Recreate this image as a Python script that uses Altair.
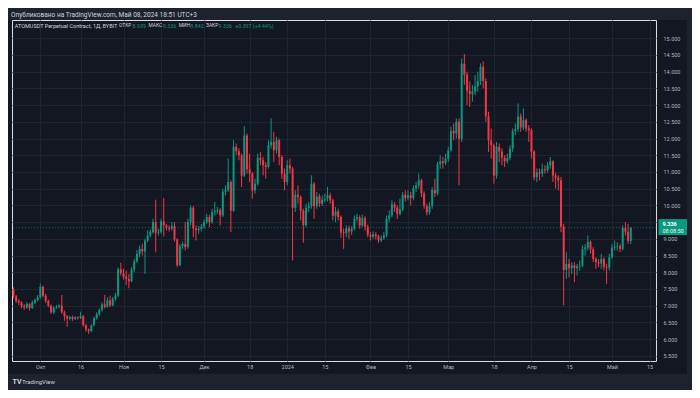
import altair as alt
import pandas as pd

# ---------------- data ----------------
first_open = 7.49
close = [7.28, 7.14, 7.10, 6.99, 6.95, 7.05, 6.93, 7.10, 7.17, 7.25,
         7.56, 7.30, 7.14, 7.00, 6.80, 6.94, 6.96, 7.00, 6.80, 6.68,
         6.61, 6.66, 6.60, 6.65, 6.63, 6.68, 6.42, 6.29, 6.24, 6.41,
         6.63, 6.74, 6.87, 7.04, 6.97, 7.16, 7.01, 7.20, 7.30, 8.09,
         7.97, 7.87, 7.80, 7.73, 8.08, 8.33, 8.55, 8.70, 8.62, 8.95,
         9.10, 9.20, 9.50, 9.18, 9.20, 9.52, 9.40, 9.33, 9.30, 9.38,
         8.98, 8.21, 8.78, 8.85, 8.75, 9.50, 9.93, 9.31, 9.26, 9.30,
         9.36, 9.50, 9.65, 9.50, 9.80, 9.84, 9.86, 9.70, 10.41, 10.46,
         10.70, 9.84, 11.75, 11.62, 11.50, 10.89, 12.09, 11.08, 10.95, 10.45,
         10.65, 11.42, 11.35, 11.20, 11.15, 11.80, 11.90, 11.65, 11.95, 11.45,
         10.95, 10.70, 11.20, 11.10, 9.93, 10.32, 10.25, 9.84, 9.41, 9.93,
         9.98, 10.65, 9.98, 10.27, 10.05, 10.17, 10.20, 10.30, 10.15, 9.69,
         9.82, 9.65, 9.19, 9.17, 9.32, 9.22, 9.30, 9.60, 9.65, 9.40,
         9.62, 9.36, 9.12, 9.06, 9.13, 9.08, 8.95, 9.02, 9.10, 9.60,
         9.70, 10.03, 9.93, 9.74, 9.88, 10.32, 10.22, 10.30, 10.22, 10.51,
         10.60, 10.75, 10.36, 9.98, 9.79, 9.98, 10.46, 10.36, 11.23, 11.32,
         11.27, 11.40, 11.65, 12.23, 12.15, 12.50, 11.99, 14.24, 13.91, 13.43,
         13.33, 13.40, 13.55, 13.72, 14.15, 13.72, 12.66, 11.94, 11.80, 10.89,
         11.75, 11.61, 11.42, 11.32, 11.42, 11.70, 12.23, 12.28, 12.66, 12.33,
         12.55, 12.30, 12.25, 11.61, 10.84, 10.99, 10.95, 11.08, 11.05, 11.20,
         11.32, 10.89, 10.83, 10.75, 9.36, 8.07, 8.25, 8.12, 8.21, 8.12,
         8.18, 8.20, 8.69, 8.74, 8.91, 8.69, 8.40, 8.30, 8.26, 8.40,
         8.16, 8.14, 8.45, 8.74, 8.76, 8.78, 8.70, 9.33, 9.21, 8.939,
         9.336]
high = [7.55, 7.32, 7.20, 7.13, 7.05, 7.10, 7.08, 7.15, 7.22, 7.32,
        7.66, 7.60, 7.35, 7.18, 7.03, 6.98, 7.02, 7.04, 7.32, 6.85,
        6.72, 6.70, 6.70, 6.69, 6.68, 6.82, 6.72, 6.45, 6.32, 6.45,
        6.67, 6.80, 6.92, 7.10, 7.32, 7.25, 7.30, 7.26, 7.38, 8.14,
        8.28, 8.10, 8.05, 7.95, 8.15, 8.40, 8.66, 8.80, 8.85, 9.00,
        9.25, 9.28, 9.60, 10.17, 9.30, 9.60, 10.22, 9.45, 9.40, 9.50,
        9.50, 9.02, 8.85, 8.92, 9.50, 9.60, 10.00, 9.98, 9.40, 9.38,
        9.45, 9.58, 9.75, 9.72, 9.90, 10.10, 9.95, 9.92, 10.50, 10.60,
        11.40, 10.75, 11.95, 11.85, 11.70, 11.55, 12.37, 12.15, 11.55, 11.00,
        10.80, 11.55, 11.60, 11.45, 11.30, 11.95, 12.60, 12.20, 12.05, 12.00,
        11.50, 11.10, 11.35, 11.40, 11.15, 10.45, 10.60, 10.30, 9.90, 10.05,
        10.10, 10.90, 10.70, 10.40, 10.35, 10.30, 10.35, 10.55, 10.38, 10.20,
        9.95, 9.90, 9.70, 9.30, 9.40, 9.40, 9.38, 9.70, 9.75, 9.70,
        9.72, 9.68, 9.42, 9.20, 9.22, 9.20, 9.12, 9.10, 9.20, 9.70,
        9.85, 10.15, 10.10, 10.00, 10.20, 10.40, 10.45, 10.45, 10.40, 10.60,
        10.70, 10.95, 10.80, 10.42, 10.05, 10.10, 10.55, 10.80, 11.30, 11.50,
        11.45, 11.55, 11.75, 12.35, 12.45, 12.60, 12.60, 14.39, 14.53, 14.00,
        13.70, 13.60, 13.90, 14.00, 14.25, 14.31, 13.80, 12.80, 12.30, 11.85,
        11.90, 11.85, 11.70, 11.50, 11.55, 11.80, 12.30, 12.45, 13.05, 12.75,
        12.90, 12.60, 12.40, 12.30, 11.65, 11.10, 11.10, 11.25, 11.20, 11.30,
        11.45, 11.35, 10.98, 10.90, 10.85, 9.45, 8.60, 8.40, 8.30, 8.30,
        8.25, 8.35, 8.80, 8.85, 9.10, 8.95, 8.75, 8.45, 8.40, 8.55,
        8.45, 8.25, 8.55, 8.85, 8.95, 8.90, 8.85, 9.40, 9.50, 9.45,
        9.336]
low = [7.22, 7.08, 7.02, 6.92, 6.88, 6.90, 6.85, 6.90, 7.05, 7.12,
       7.22, 7.25, 7.08, 6.95, 6.76, 6.75, 6.90, 6.92, 6.76, 6.55,
       6.36, 6.56, 6.55, 6.57, 6.58, 6.60, 6.38, 6.22, 6.15, 6.20,
       6.38, 6.58, 6.70, 6.82, 6.92, 6.94, 6.96, 6.98, 7.15, 7.26,
       7.90, 7.78, 7.62, 7.52, 7.70, 8.00, 8.28, 8.45, 8.50, 7.95,
       8.90, 9.05, 9.15, 8.60, 9.10, 9.15, 9.07, 9.25, 9.22, 9.25,
       8.92, 8.15, 8.18, 8.70, 8.65, 8.70, 9.40, 9.05, 8.95, 9.15,
       9.22, 9.30, 9.45, 9.35, 9.45, 9.70, 9.75, 9.40, 9.65, 10.30,
       10.40, 9.20, 9.80, 11.50, 11.35, 10.55, 10.85, 10.95, 10.70, 10.20,
       10.35, 10.60, 11.20, 10.90, 10.80, 11.10, 11.70, 11.30, 11.55, 11.20,
       10.80, 10.45, 10.60, 10.95, 8.35, 9.80, 10.05, 9.55, 8.88, 9.35,
       9.80, 9.90, 9.60, 9.90, 9.95, 9.98, 10.10, 10.12, 10.05, 9.55,
       9.50, 9.55, 9.03, 8.70, 9.05, 9.00, 9.12, 9.25, 9.52, 9.30,
       9.35, 9.25, 9.05, 8.95, 9.00, 8.98, 8.88, 8.90, 8.97, 9.05,
       9.50, 9.65, 9.80, 9.60, 9.70, 9.82, 10.12, 10.15, 10.00, 10.15,
       10.40, 10.50, 10.25, 9.90, 9.70, 9.72, 9.90, 10.25, 10.30, 11.10,
       11.10, 11.20, 11.30, 11.60, 11.95, 12.00, 10.60, 11.90, 13.60, 13.00,
       12.95, 13.10, 13.30, 13.40, 13.60, 13.50, 12.50, 11.60, 11.40, 10.65,
       10.80, 11.30, 11.20, 11.15, 11.25, 11.35, 11.60, 12.10, 12.20, 12.20,
       12.25, 12.20, 11.90, 11.40, 10.75, 10.70, 10.75, 10.85, 10.95, 10.98,
       11.10, 10.70, 10.50, 10.45, 9.20, 7.01, 7.80, 7.85, 7.95, 7.70,
       7.90, 8.05, 8.15, 8.50, 8.65, 8.55, 8.30, 8.10, 8.15, 8.10,
       8.05, 7.65, 8.05, 8.40, 8.65, 8.65, 8.60, 8.65, 9.10, 8.85,
       8.842]
days = list(range(len(close)))          # day 0 = 21 Sep 2023
opens = [first_open] + close[:-1]       # each daily candle opens at the previous close

tick_days = [10, 25, 41, 55, 71, 88, 102, 116, 133, 147, 162, 179, 193, 207, 223, 237]
tick_labels = ["Окт", "16", "Ноя", "15", "Дек", "18", "2024", "15",
               "Фев", "15", "Мар", "18", "Апр", "15", "Май", "15"]
price_ticks = [5.5, 6.0, 6.5, 7.0, 7.5, 8.0, 8.5, 9.0, 9.5, 10.0,
               10.5, 11.0, 11.5, 12.0, 12.5, 13.0, 13.5, 14.0, 14.5, 15.0]

last_price = 9.336
last_label = "9.336"
countdown = "08:08:50"
published = "Опубликовано на TradingView.com, Май 08, 2024 18:51 UTC+3"
legend_parts = [("ATOMUSDT Perpetual Contract, 1Д, BYBIT", "label"),
                ("ОТКР", "label"), ("8.939", "value"),
                ("МАКС", "label"), ("9.336", "value"),
                ("МИН", "label"), ("8.842", "value"),
                ("ЗАКР", "label"), ("9.336", "value"),
                ("+0.397 (+4.44%)", "value")]

# ---------------- style ----------------
PANE = "#131722"
STRIP = "#1e222d"
GRID = "#1f2430"
UP = "#089981"
DOWN = "#f23645"
TXT = "#b2b5be"
LEG = "#d1d4dc"
FONT = "Roboto"
W, H = 644, 341

df = pd.DataFrame({"d": days, "o": opens, "h": high, "l": low, "c": close})

label_expr = " : ".join(
    f"datum.value == {d} ? '{t}'" for d, t in zip(tick_days, tick_labels)
) + " : ''"

xs = alt.Scale(domain=[-0.55, 239.4], nice=False, zero=False)
ys = alt.Scale(domain=[5.345, 15.546], nice=False, zero=False)
x_axis = alt.Axis(values=tick_days, labelExpr=label_expr, grid=True, gridColor=GRID,
                  ticks=False, domain=False, labelColor=TXT, labelFontSize=5.5,
                  labelFont=FONT, labelPadding=3, title=None, labelFlush=False)
y_axis = alt.Axis(values=price_ticks, format=".3f", orient="right", grid=True,
                  gridColor=GRID, ticks=False, domain=False, labelColor=TXT,
                  labelFontSize=5.5, labelFont=FONT, labelAlign="left",
                  labelPadding=7, title=None)
color = alt.Color("dir:N", scale=alt.Scale(domain=["up", "down"], range=[UP, DOWN]),
                  legend=None)

base = alt.Chart(df).transform_calculate(
    x1="datum.d - 0.37", x2="datum.d + 0.37",
    dir="datum.c >= datum.o ? 'up' : 'down'")

wicks = base.mark_rule(strokeWidth=1).encode(
    x=alt.X("d:Q", scale=xs, axis=x_axis),
    y=alt.Y("l:Q", scale=ys, axis=y_axis),
    y2="h:Q", color=color)

bodies = base.mark_rect().encode(
    x=alt.X("x1:Q", scale=xs, axis=x_axis), x2="x2:Q",
    y=alt.Y("o:Q", scale=ys, axis=y_axis), y2="c:Q", color=color)

one = pd.DataFrame({"k": [0]})

header_strip = alt.Chart(one).mark_rect(color=STRIP).encode(
    x=alt.value(-4), x2=alt.value(684), y=alt.value(-12), y2=alt.value(0))
bottom_strip = alt.Chart(one).mark_rect(color=STRIP).encode(
    x=alt.value(-4), x2=alt.value(684), y=alt.value(353.7), y2=alt.value(370))
right_strip = alt.Chart(one).mark_rect(color=STRIP).encode(
    x=alt.value(675), x2=alt.value(684), y=alt.value(-12), y2=alt.value(370))

price_line = alt.Chart(one).mark_rule(color=UP, strokeDash=[1, 2], opacity=0.6,
                                      strokeWidth=1).encode(
    y=alt.datum(last_price, scale=ys, axis=y_axis))

price_box = alt.Chart(one).mark_rect(color=UP, yOffset=-8.5, y2Offset=7.5).encode(
    x=alt.value(646.5), x2=alt.value(675),
    y=alt.datum(last_price, scale=ys, axis=y_axis), y2=alt.datum(last_price))
price_txt = alt.Chart(one).mark_text(align="left", baseline="middle", font=FONT,
                                     fontSize=5.5, color="#ffffff", fontWeight="bold",
                                     dy=-3.8, text=last_label).encode(
    x=alt.value(650.5), y=alt.datum(last_price, scale=ys, axis=y_axis))
count_txt = alt.Chart(one).mark_text(align="left", baseline="middle", font=FONT,
                                     fontSize=5.5, color="#e6f4f1",
                                     dy=3.8, text=countdown).encode(
    x=alt.value(650.5), y=alt.datum(last_price, scale=ys, axis=y_axis))

pub_txt = alt.Chart(one).mark_text(align="left", baseline="middle", font=FONT,
                                   fontSize=6.5, color=LEG, text=published).encode(
    x=alt.value(-1), y=alt.value(-5.5))
tv_logo = alt.Chart(one).mark_text(align="left", baseline="middle", font=FONT,
                                   fontSize=7, fontWeight="bold", color=LEG,
                                   text="TV").encode(x=alt.value(0.5), y=alt.value(362))
tv_txt = alt.Chart(one).mark_text(align="left", baseline="middle", font=FONT,
                                  fontSize=6, color=LEG,
                                  text="TradingView").encode(x=alt.value(10), y=alt.value(362))

leg_x = [2.8, 107.0, 120.6, 136.4, 151.0, 166.8, 178.3, 194.0, 206.6, 223.2]
leg_size = {"label": 4.9, "value": 5.3}
legend_layers = []
for i, ((txt, kind), px) in enumerate(zip(legend_parts, leg_x)):
    fs = 5.5 if i == 0 else leg_size[kind]
    legend_layers.append(
        alt.Chart(one).mark_text(align="left", baseline="middle", font=FONT,
                                 fontSize=fs, color=(UP if kind == "value" else LEG),
                                 text=txt).encode(x=alt.value(px), y=alt.value(6.2)))

chart = alt.layer(
    header_strip, bottom_strip, right_strip, price_line, wicks, bodies,
    price_box, price_txt, count_txt, pub_txt, tv_logo, tv_txt, *legend_layers
).properties(
    width=W, height=H,
    autosize=alt.AutoSizeParams(type="none"),
    padding={"left": 4, "top": 12, "right": 36, "bottom": 29},
    background=PANE,
).configure_view(strokeWidth=0).configure(font=FONT)

chart.save("out.html", embed_options={"renderer": "svg", "actions": False})
